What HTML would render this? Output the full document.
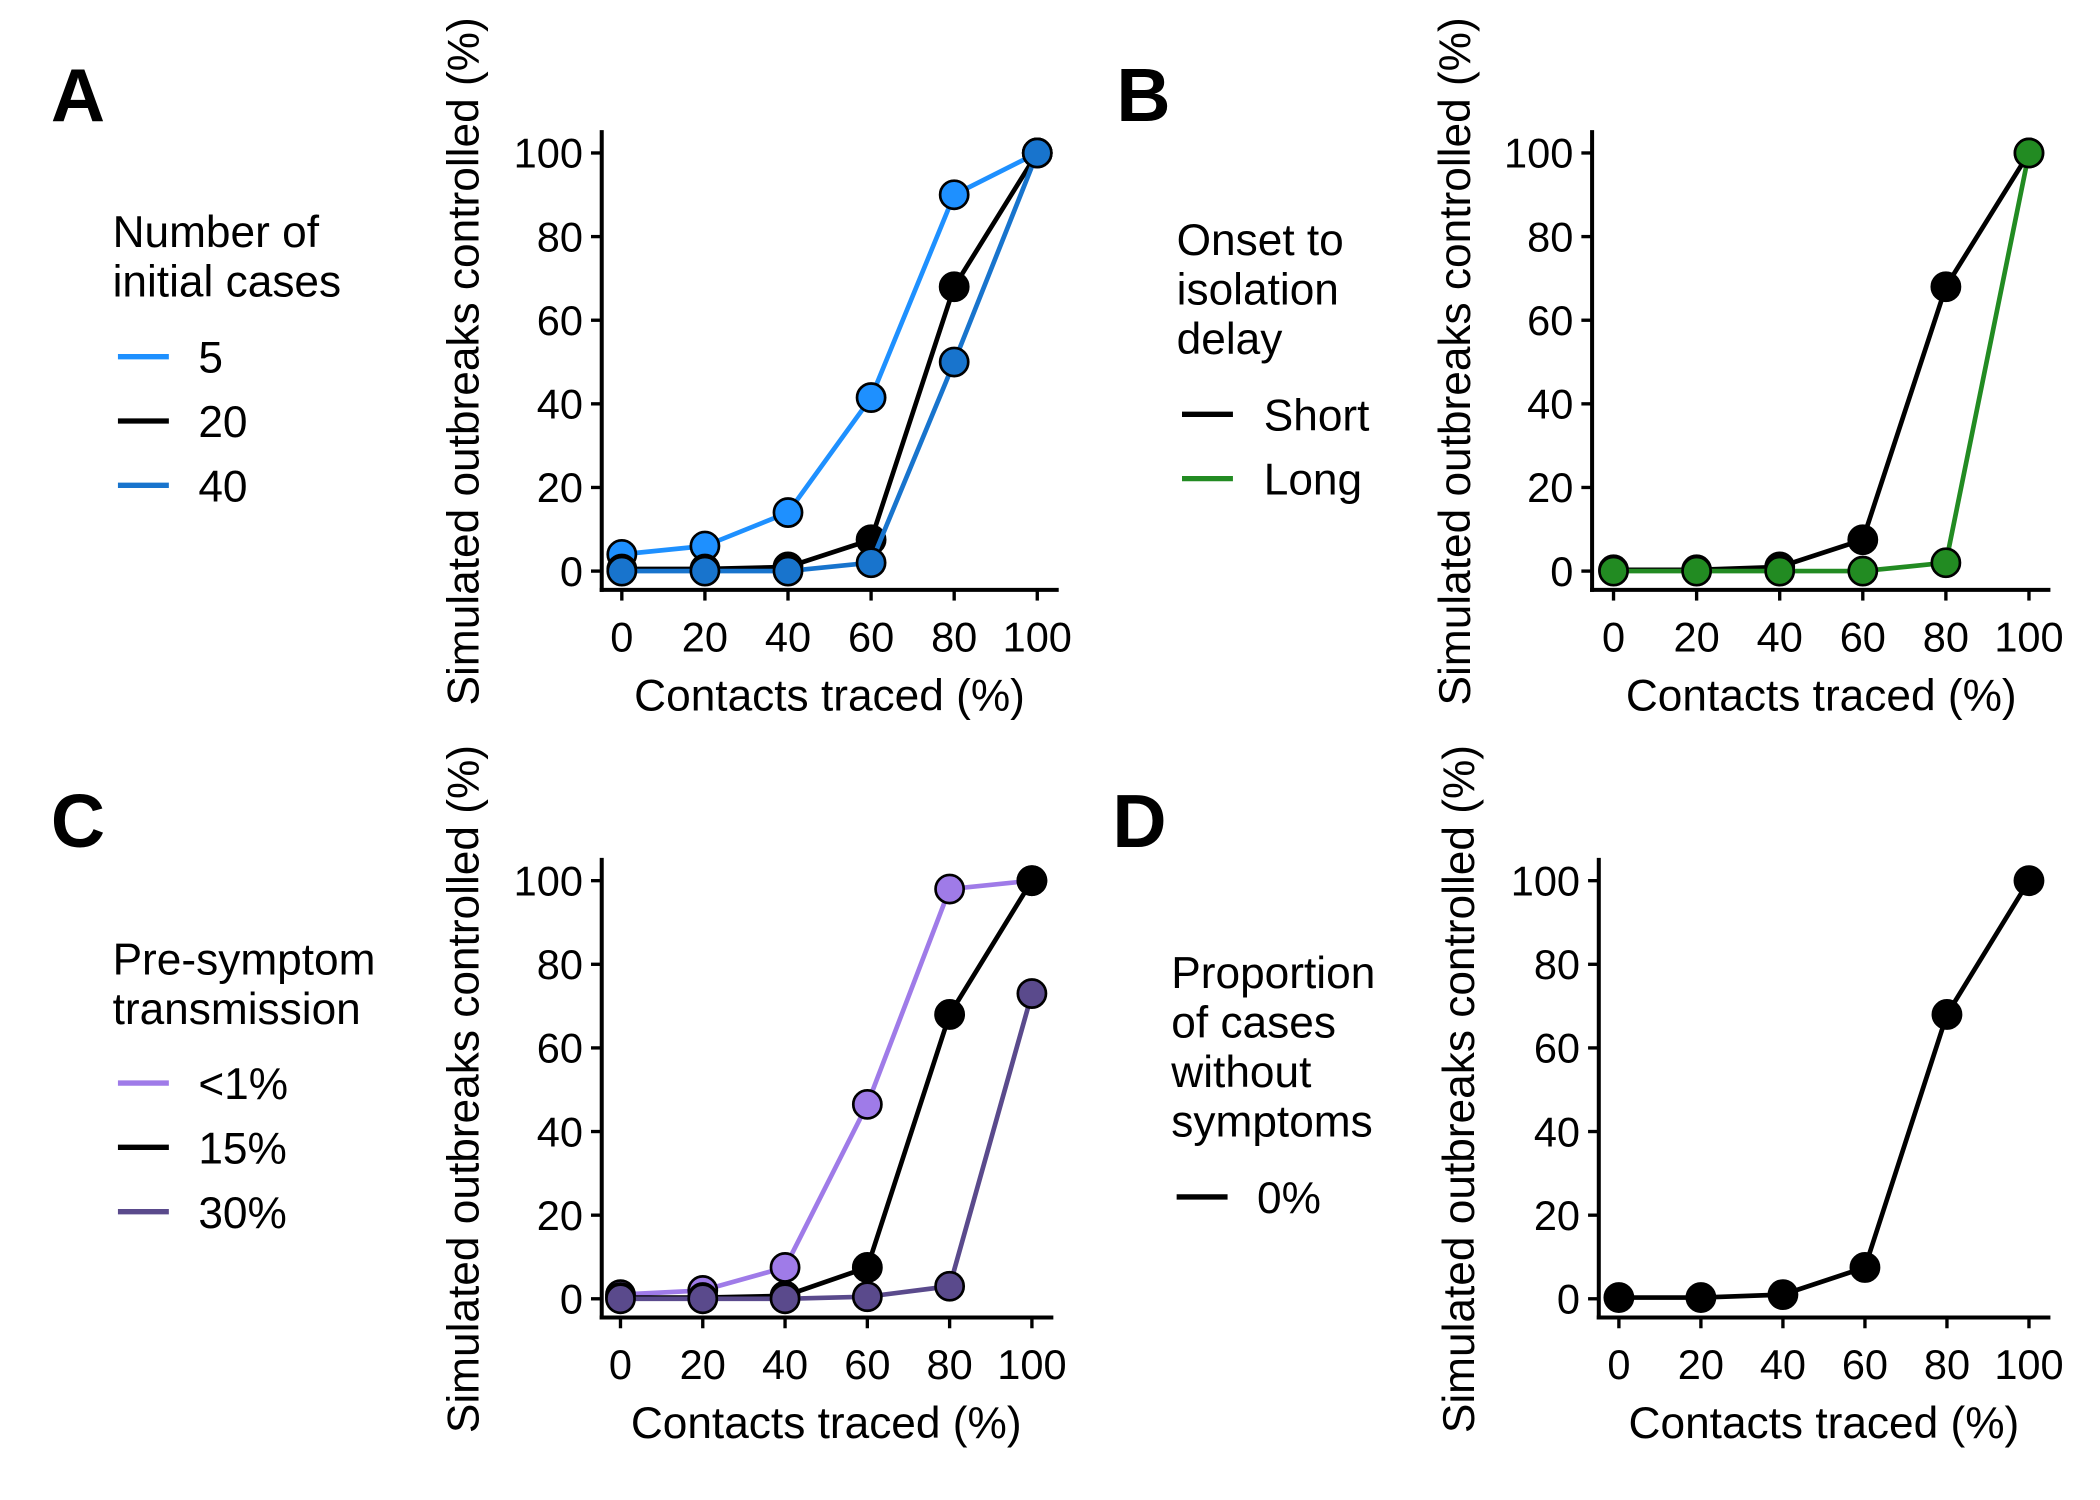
<!DOCTYPE html>
<html><head><meta charset="utf-8"><style>
html,body{margin:0;padding:0;background:#fff;}
svg{display:block;font-family:"Liberation Sans",Arial,sans-serif;}
</style></head><body>
<svg id="fig" width="2100" height="1500" viewBox="0 0 1567 1119" xmlns="http://www.w3.org/2000/svg"></svg>
<script>
const xCats=[0,20,40,60,80,100];
const yTicks=[0,20,40,60,80,100];
const xTickLabels=["0","20","40","60","80","100"];
const yTickLabels=["0","20","40","60","80","100"];
const seriesA5=[4,6,14,41.5,90,100];
const seriesA20=[0.5,0.5,1,7.5,68,100];
const seriesA40=[0,0,0,2,50,100];
const seriesBShort=[0.3,0.3,1,7.5,68,100];
const seriesBLong=[0,0,0,0,2,100];
const seriesClt1=[1,2,7.5,46.5,98,100];
const seriesC15=[0.3,0.3,0.7,7.5,68,100];
const seriesC30=[0,0,0,0.5,3,73];
const seriesD0=[0.3,0.3,1,7.5,68,100];

const NS="http://www.w3.org/2000/svg";
const svg=document.getElementById('fig');
function mk(tag,attrs,parent,text){const e=document.createElementNS(NS,tag);for(const k in attrs)e.setAttribute(k,attrs[k]);if(text!==undefined)e.textContent=text;(parent||svg).appendChild(e);return e;}

const panels=[
 {id:'a',letter:'A',lx:40,ly:90,ax:449,x0:464,x100:774,axEnd:790,y0:426,y100:114,yTop:97,axY:440,ylabX:357,
  title:["Number of","initial cases"],tx:84,ty:184,entryY:[266,314,362],lineX:88,labX:148,
  series:[{name:"5",vals:seriesA5,col:"#1e90ff"},{name:"20",vals:seriesA20,col:"#000000"},{name:"40",vals:seriesA40,col:"#1874cd"}]},
 {id:'b',letter:'B',lx:835,ly:90,ax:1188,x0:1204,x100:1514,axEnd:1530,y0:426,y100:114,yTop:97,axY:440,ylabX:1097,
  title:["Onset to","isolation","delay"],tx:878,ty:190,entryY:[309,357],lineX:882,labX:943,
  series:[{name:"Short",vals:seriesBShort,col:"#000000"},{name:"Long",vals:seriesBLong,col:"#228b22"}]},
 {id:'c',letter:'C',lx:40,ly:632,ax:449,x0:463,x100:770,axEnd:786,y0:969,y100:657,yTop:640,axY:983,ylabX:357,
  title:["Pre-symptom","transmission"],tx:84,ty:727,entryY:[808,856,904],lineX:88,labX:148,
  series:[{name:"<1%",vals:seriesClt1,col:"#9f7be8"},{name:"15%",vals:seriesC15,col:"#000000"},{name:"30%",vals:seriesC30,col:"#5a4a8c"}]},
 {id:'d',letter:'D',lx:832,ly:632,ax:1193,x0:1208,x100:1514,axEnd:1530,y0:969,y100:657,yTop:640,axY:983,ylabX:1100,
  title:["Proportion","of cases","without","symptoms"],tx:874,ty:737,entryY:[893],lineX:878,labX:938,
  series:[{name:"0%",vals:seriesD0,col:"#000000"}]}
];

panels.forEach(p=>{
  const g=mk('g',{});
  
  
  const xs=v=>p.x0+(v/100)*(p.x100-p.x0);
  const ys=v=>p.y0-(v/100)*(p.y0-p.y100);
  const L=mk('text',{x:p.lx-2,y:p.ly,'font-size':56,'font-weight':'bold'},g,p.letter);
  
  
  const ya=mk('line',{x1:p.ax,y1:p.yTop,x2:p.ax,y2:p.axY+1.5,stroke:'#000','stroke-width':3},g);
  
  
  const xa=mk('line',{x1:p.ax-1.5,y1:p.axY,x2:p.axEnd,y2:p.axY,stroke:'#000','stroke-width':3},g);
  
  
  yTicks.forEach((t,i)=>{
    mk('line',{x1:p.ax-8,y1:ys(t),x2:p.ax,y2:ys(t),stroke:'#000','stroke-width':2.5},g);
    const tl=mk('text',{x:p.ax-14,y:ys(t)+11,'font-size':31,'text-anchor':'end'},g,yTickLabels[i]);
    
    
  });
  xCats.forEach((t,i)=>{
    mk('line',{x1:xs(t),y1:p.axY,x2:xs(t),y2:p.axY+8,stroke:'#000','stroke-width':2.5},g);
    const tl=mk('text',{x:xs(t),y:p.axY+46,'font-size':31,'text-anchor':'middle'},g,xTickLabels[i]);
    
    
  });
  const xt=mk('text',{x:(p.x0+p.x100)/2,y:p.axY+90,'font-size':33,'text-anchor':'middle'},g,'Contacts traced (%)');
  
  
  const yc=(p.yTop+p.axY)/2+1;
  const yt=mk('text',{x:p.ylabX,y:yc,'font-size':33,'text-anchor':'middle',transform:`rotate(-90 ${p.ylabX} ${yc})`},g,'Simulated outbreaks controlled (%)');
  
  
  p.series.forEach(s=>{
    const pl=mk('polyline',{points:s.vals.map((v,i)=>xs(xCats[i])+','+ys(v)).join(' '),fill:'none',stroke:s.col,'stroke-width':3.5,'stroke-linejoin':'round'},g);
    
    
    s.vals.forEach((v,i)=>{
      const c=mk('circle',{cx:xs(xCats[i]),cy:ys(v),r:10.5,fill:s.col,stroke:'#000','stroke-width':2},g);
      
      
    });
  });
  const lg=mk('g',{},g);
  
  
  p.title.forEach((t,i)=>{
    mk('text',{x:p.tx,y:p.ty+i*37,'font-size':33},lg,t);
  });
  p.series.forEach((s,i)=>{
    const eg=mk('g',{},lg);
    
    
    mk('line',{x1:p.lineX,y1:p.entryY[i],x2:p.lineX+38,y2:p.entryY[i],stroke:s.col,'stroke-width':4},eg);
    mk('text',{x:p.labX,y:p.entryY[i]+12,'font-size':33},eg,s.name);
  });
});
</script>
</body></html>
